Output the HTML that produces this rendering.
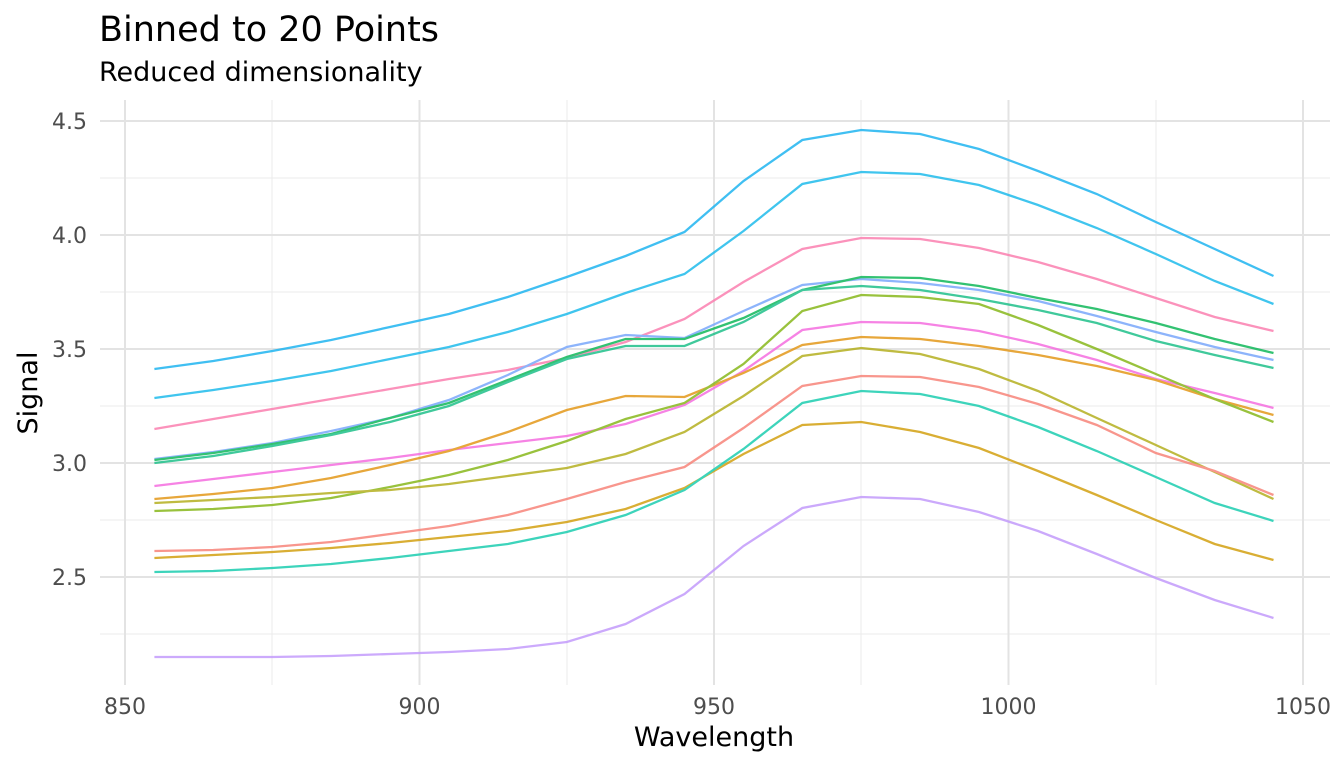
<!DOCTYPE html>
<html><head><meta charset="utf-8"><style>
body{margin:0;background:#fff}
text{font-family:"DejaVu Sans","Liberation Sans",sans-serif}
</style></head><body>
<svg width="1344" height="768" xmlns="http://www.w3.org/2000/svg">
<rect width="1344" height="768" fill="#fff"/>
<g stroke="#ebebeb" stroke-width="1">
<line x1="100" x2="1330" y1="178" y2="178"/><line x1="100" x2="1330" y1="292" y2="292"/><line x1="100" x2="1330" y1="406" y2="406"/><line x1="100" x2="1330" y1="520" y2="520"/><line x1="100" x2="1330" y1="634" y2="634"/>
<line y1="100" y2="685" x1="272" x2="272"/><line y1="100" y2="685" x1="567" x2="567"/><line y1="100" y2="685" x1="861" x2="861"/><line y1="100" y2="685" x1="1156" x2="1156"/>
</g>
<g stroke="#e3e3e3" stroke-width="2">
<line x1="100" x2="1330" y1="121" y2="121"/><line x1="100" x2="1330" y1="235" y2="235"/><line x1="100" x2="1330" y1="349" y2="349"/><line x1="100" x2="1330" y1="463" y2="463"/><line x1="100" x2="1330" y1="577" y2="577"/>
<line y1="100" y2="685" x1="125" x2="125"/><line y1="100" y2="685" x1="419.5" x2="419.5"/><line y1="100" y2="685" x1="714" x2="714"/><line y1="100" y2="685" x1="1008.5" x2="1008.5"/><line y1="100" y2="685" x1="1303" x2="1303"/>
</g>
<g id="lines" fill="none" stroke-width="2.3" opacity="0.85"></g>
<g fill="#4d4d4d" font-size="22" text-anchor="end">
<text x="87" y="129">4.5</text><text x="87" y="243">4.0</text><text x="87" y="357">3.5</text><text x="87" y="471">3.0</text><text x="87" y="585">2.5</text>
</g>
<g fill="#4d4d4d" font-size="22" text-anchor="middle">
<text x="125" y="714">850</text><text x="419.5" y="714">900</text><text x="714" y="714">950</text><text x="1008.5" y="714">1000</text><text x="1303" y="714">1050</text>
</g>
<text x="714" y="746" font-size="27" text-anchor="middle" fill="#000">Wavelength</text>
<text transform="translate(37,393) rotate(-90)" font-size="27" text-anchor="middle" fill="#000">Signal</text>
<text x="99" y="41" font-size="35" fill="#000">Binned to 20 Points</text>
<text x="99" y="81" font-size="27" fill="#000">Reduced dimensionality</text>
</svg>
<script>
var S=[
["#1fb5f0",[369,361,351,340,327,314,297,277,256,232,181,140,130,134,149,171,194,222,249,276]],
["#1fbbec",[398,390,381,371,359,347,332,314,293,274,231,184,172,174,185,205,228,254,281,304]],
["#fb7fb0",[429,419,409,399,389,379,370,358,342,319,282,249,238,239,248,262,279,298,317,331]],
["#7aa8fb",[459,452,443,431,418,400,375,347,335,338,311,285,279,283,290,301,316,332,347,360]],
["#10b85a",[460,453,444,434,418,403,380,357,339,339,318,290,277,278,286,298,309,323,339,353]],
["#1fc08a",[463,456,446,435,422,406,382,359,346,346,322,290,286,290,299,310,323,341,355,368]],
["#f56ee0",[486,479,472,465,458,450,443,436,424,405,371,330,322,323,331,344,360,379,393,408]],
["#e3981a",[499,494,488,478,465,451,432,410,396,397,373,345,337,339,346,355,366,380,399,415]],
["#88b81c",[511,509,505,498,487,475,460,441,419,403,364,311,295,297,304,325,349,374,399,422]],
["#b5b020",[503,500,497,493,490,484,476,468,454,432,396,356,348,354,369,391,418,445,472,499]],
["#f7847a",[551,550,547,542,534,526,515,499,482,467,428,386,376,377,387,404,425,453,471,495]],
["#d3a111",[558,555,552,548,543,537,531,522,509,488,454,425,422,432,448,471,495,520,544,560]],
["#1ccdb0",[572,571,568,564,558,551,544,532,515,490,449,403,391,394,406,427,451,477,503,521]],
["#c39bfb",[657,657,657,656,654,652,649,642,624,594,546,508,497,499,512,531,554,578,600,618]]];
var g=document.getElementById('lines'),h='';
S.forEach(function(s){var p=s[1].map(function(y,i){return (154.45+i*58.9).toFixed(1)+','+y}).join(' ');
h+='<polyline stroke="'+s[0]+'" points="'+p+'"/>';});
g.innerHTML=h;
</script>
</body></html>
